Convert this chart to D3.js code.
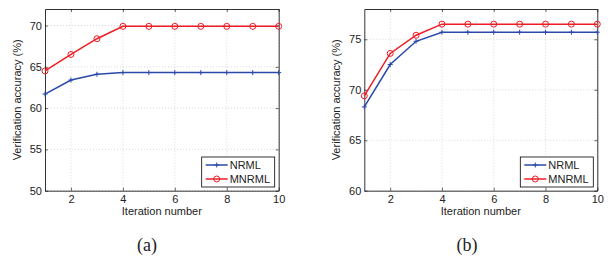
<!DOCTYPE html>
<html><head><meta charset="utf-8">
<script src="https://cdn.jsdelivr.net/npm/d3@7"></script>
<style>body{margin:0;background:#fff}svg{display:block}</style>
</head><body>
<svg id="c" width="613" height="261"></svg>
<script>
const iterations = [1,2,3,4,5,6,7,8,9,10];
const nrmlA  = [61.7,63.4,64.1,64.3,64.3,64.3,64.3,64.3,64.3,64.3];
const mnrmlA = [64.5,66.5,68.4,69.9,69.9,69.9,69.9,69.9,69.9,69.9];
const nrmlB  = [68.3,72.5,74.8,75.7,75.7,75.7,75.7,75.7,75.7,75.7];
const mnrmlB = [69.4,73.6,75.4,76.5,76.5,76.5,76.5,76.5,76.5,76.5];
const xTicks = [2,4,6,8,10];
const yTicksA = [50,55,60,65,70];
const yTicksB = [60,65,70,75];
const seriesNames = ["NRML","MNRML"];
const captions = ["(a)","(b)"];

const svg = d3.select("#c");
const blue = "#2a49a8", red = "#ee1c24";
const font = "Liberation Sans, Arial, sans-serif";

function panel(x0, x1, yDom, yTicks, s1, s2, cap, capX, ylabX){
  const g = svg.append("g");
  const x = d3.scaleLinear().domain([1,10]).range([x0,x1]);
  const y = d3.scaleLinear().domain(yDom).range([190.7, 9]);
  // grid
  g.selectAll(".gx").data(xTicks).join("line")
    .attr("x1",d=>x(d)).attr("x2",d=>x(d)).attr("y1",y.range()[0]).attr("y2",y.range()[1])
    .attr("stroke","#c8c8c8").attr("stroke-width",0.7).attr("stroke-dasharray","1,2");
  g.selectAll(".gy").data(yTicks).join("line")
    .attr("x1",x0).attr("x2",x1).attr("y1",d=>y(d)).attr("y2",d=>y(d))
    .attr("stroke","#c8c8c8").attr("stroke-width",0.7).attr("stroke-dasharray","1,2");
  // axes
  const ax = g.append("g").attr("transform",`translate(0,${y.range()[0]})`)
    .call(d3.axisBottom(x).tickValues(xTicks).tickSizeInner(-3).tickSizeOuter(0).tickPadding(5));
  const ay = g.append("g").attr("transform",`translate(${x0},0)`)
    .call(d3.axisLeft(y).tickValues(yTicks).tickSizeInner(-3).tickSizeOuter(0).tickPadding(3));
  const axT = g.append("g").attr("transform",`translate(0,${y.range()[1]})`)
    .call(d3.axisTop(x).tickValues(xTicks).tickSizeInner(-3).tickSizeOuter(0).tickFormat(""));
  const ayR = g.append("g").attr("transform",`translate(${x1},0)`)
    .call(d3.axisRight(y).tickValues(yTicks).tickSizeInner(-3).tickSizeOuter(0).tickFormat(""));
  [ax,ay,axT,ayR].forEach(a=>{
    a.selectAll("path").attr("stroke","#000").attr("stroke-width",0.8);
    a.selectAll("line").attr("stroke","#000").attr("stroke-width",0.6);
    a.selectAll("text").attr("font-family",font).attr("font-size",11).attr("fill","#222");
  });
  // labels
  g.append("text").attr("x",(x0+x1)/2).attr("y",215).attr("text-anchor","middle")
    .attr("font-family",font).attr("font-size",11).attr("fill","#222").text("Iteration number");
  g.append("text").attr("transform",`translate(${ylabX},${(9+190.7)/2}) rotate(-90)`)
    .attr("text-anchor","middle").attr("font-family",font).attr("font-size",11).attr("fill","#222")
    .text("Verification accuracy (%)");
  g.append("text").attr("x",capX).attr("y",251).attr("text-anchor","middle")
    .attr("font-family","Liberation Serif, serif").attr("font-size",18).attr("fill","#222").text(cap);
  const line = d3.line().x((d,i)=>x(iterations[i])).y(d=>y(d));
  // series
  g.append("path").datum(s1).attr("d",line).attr("fill","none").attr("stroke",blue).attr("stroke-width",1.5);
  g.selectAll(".p1").data(s1).join("path")
    .attr("d",(d,i)=>{const px=x(iterations[i]),py=y(d);return `M${px-2.5},${py}H${px+2.5}M${px},${py-2.5}V${py+2.5}`;})
    .attr("stroke",blue).attr("stroke-width",1);
  g.append("path").datum(s2).attr("d",line).attr("fill","none").attr("stroke",red).attr("stroke-width",1.5);
  g.selectAll(".p2").data(s2).join("circle")
    .attr("cx",(d,i)=>x(iterations[i])).attr("cy",d=>y(d)).attr("r",3)
    .attr("fill","none").attr("stroke",red).attr("stroke-width",1);
  // legend
  const lx = x1-77, ly = 157;
  const lg = g.append("g");
  lg.append("rect").attr("x",lx).attr("y",ly).attr("width",73).attr("height",30)
    .attr("fill","#fff").attr("stroke","#000").attr("stroke-width",0.8);
  [[blue,"plus"],[red,"circle"]].forEach(([c,m],k)=>{
    const yy = ly+8+k*14;
    lg.append("line").attr("x1",lx+4).attr("x2",lx+26).attr("y1",yy).attr("y2",yy)
      .attr("stroke",c).attr("stroke-width",1.5);
    if(m==="plus") lg.append("path").attr("d",`M${lx+12.5},${yy}H${lx+17.5}M${lx+15},${yy-2.5}V${yy+2.5}`).attr("stroke",c).attr("stroke-width",1);
    else lg.append("circle").attr("cx",lx+15).attr("cy",yy).attr("r",3).attr("fill","none").attr("stroke",c).attr("stroke-width",1);
    lg.append("text").attr("x",lx+28).attr("y",yy+4).attr("font-family",font).attr("font-size",11)
      .attr("fill","#222").text(seriesNames[k]);
  });
}
panel(45, 278.7, [50,72], yTicksA, nrmlA, mnrmlA, captions[0], 147, 21);
panel(364.3, 597.3, [60,78], yTicksB, nrmlB, mnrmlB, captions[1], 467, 340);
</script>
</body></html>
